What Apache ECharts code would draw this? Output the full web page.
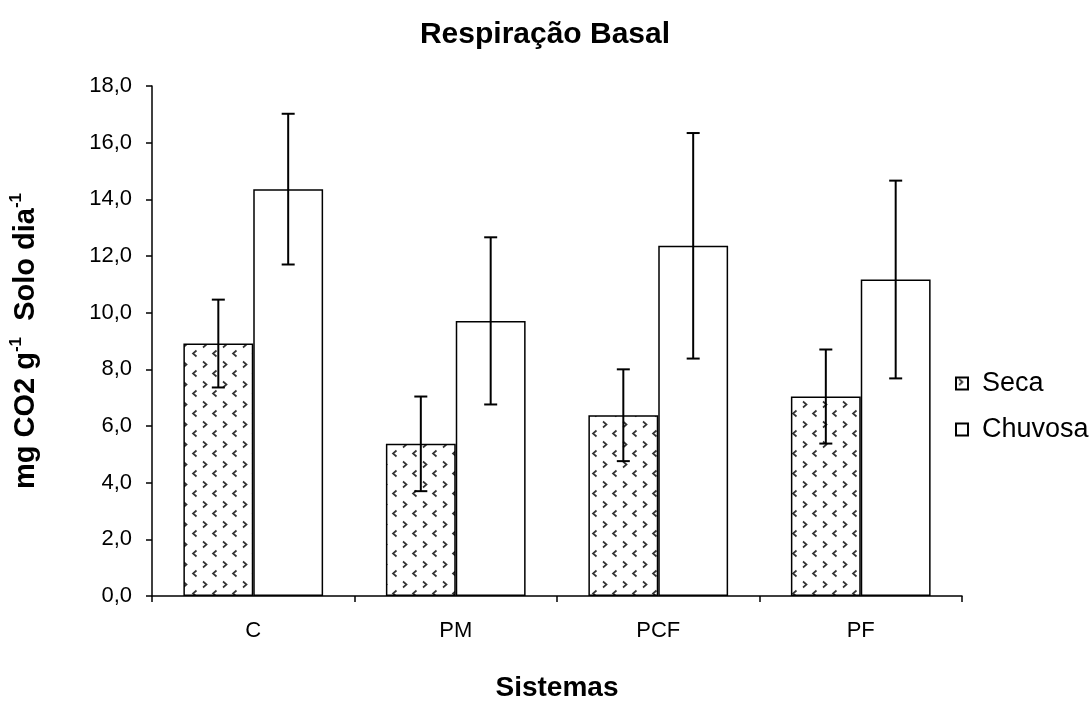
<!DOCTYPE html>
<html>
<head>
<meta charset="utf-8">
<script src="https://cdn.jsdelivr.net/npm/echarts@6/dist/echarts.min.js"></script>
<style>html,body{margin:0;padding:0;background:#fff}#c{width:1090px;height:707px}</style>
</head>
<body>
<div id="c"></div>
<script>
const categories = ['C', 'PM', 'PCF', 'PF'];
const seca = [8.91, 5.37, 6.38, 7.04];
const secaErr = [1.55, 1.67, 1.62, 1.66];
const chuvosa = [14.36, 9.71, 12.36, 11.17];
const chuvosaErr = [2.66, 2.95, 3.98, 3.49];
const yTicks = { min: 0, max: 18, interval: 2 };

const FONT = '"Liberation Sans", Arial, sans-serif';
const CAT_GAP = 0.31;

function makePattern() {
  const c = document.createElement('canvas');
  c.width = 20; c.height = 20;
  const g = c.getContext('2d');
  g.fillStyle = '#fff'; g.fillRect(0, 0, 20, 20);
  g.strokeStyle = '#333'; g.lineWidth = 1.7;
  g.beginPath(); g.moveTo(3, 1.5); g.lineTo(6.5, 4.5); g.lineTo(3, 7.5); g.stroke();
  g.beginPath(); g.moveTo(16.5, 10.5); g.lineTo(13, 13.5); g.lineTo(16.5, 16.5); g.stroke();
  return c;
}
const pattern = { image: makePattern(), repeat: 'repeat' };

function errSeries(vals, errs, side) {
  return {
    type: 'custom',
    silent: true,
    z: 10,
    data: vals.map((v, i) => [i, v - errs[i], v + errs[i]]),
    renderItem: function (params, api) {
      const i = api.value(0);
      const lo = api.coord([i, api.value(1)]);
      const hi = api.coord([i, api.value(2)]);
      const band = api.size([1, 0])[0];
      const bw = band * (1 - CAT_GAP) / 2;
      const x = lo[0] + side * bw / 2;
      const cap = 6.5;
      const st = { stroke: '#000', lineWidth: 2 };
      return {
        type: 'group',
        children: [
          { type: 'line', shape: { x1: x, y1: lo[1], x2: x, y2: hi[1] }, style: st },
          { type: 'line', shape: { x1: x - cap, y1: lo[1], x2: x + cap, y2: lo[1] }, style: st },
          { type: 'line', shape: { x1: x - cap, y1: hi[1], x2: x + cap, y2: hi[1] }, style: st }
        ]
      };
    }
  };
}

const chart = echarts.init(document.getElementById('c'), null, { renderer: 'canvas' });
chart.setOption({
  animation: false,
  backgroundColor: '#fff',
  textStyle: { fontFamily: FONT, color: '#000' },
  title: {
    text: 'Respiração Basal',
    left: 'center',
    top: 15,
    textStyle: { fontFamily: FONT, fontSize: 30, fontWeight: 'bold', color: '#000' }
  },
  legend: {
    orient: 'vertical',
    left: 955,
    top: 370,
    itemWidth: 12,
    itemHeight: 12,
    itemGap: 19,
    icon: 'rect',
    padding: 0,
    textStyle: { fontFamily: FONT, fontSize: 27, color: '#000', lineHeight: 26, padding: [0, 0, 0, 9] },
    data: ['Seca', 'Chuvosa']
  },
  grid: { left: 152, right: 128, top: 86, bottom: 103, containLabel: false },
  xAxis: {
    type: 'category',
    data: categories,
    name: 'Sistemas',
    nameLocation: 'middle',
    nameGap: 78,
    nameTextStyle: { fontFamily: FONT, fontSize: 28, fontWeight: 'bold', color: '#000' },
    axisLine: { lineStyle: { color: '#000', width: 1.5 } },
    axisTick: { show: true, length: 6, lineStyle: { color: '#000', width: 1.5 } },
    axisLabel: { fontFamily: FONT, fontSize: 22, color: '#000', margin: 24 },
    splitLine: { show: false }
  },
  yAxis: {
    type: 'value',
    min: yTicks.min,
    max: yTicks.max,
    interval: yTicks.interval,
    name: '{a|mg CO2 g}{s|-1}{a|  Solo dia}{s|-1}',
    nameLocation: 'middle',
    nameGap: 112,
    nameTextStyle: {
      rich: {
        a: { fontFamily: FONT, fontSize: 29, fontWeight: 'bold', color: '#000', lineHeight: 32, verticalAlign: 'bottom' },
        s: { fontFamily: FONT, fontSize: 17, fontWeight: 'bold', color: '#000', lineHeight: 32, verticalAlign: 'top', padding: [0, 0, 10, 0] }
      }
    },
    axisLine: { show: true, lineStyle: { color: '#000', width: 1.5 } },
    axisTick: { show: true, length: 6, lineStyle: { color: '#000', width: 1.5 } },
    axisLabel: {
      fontFamily: FONT, fontSize: 22, color: '#000', margin: 20,
      formatter: v => v.toFixed(1).replace('.', ',')
    },
    splitLine: { show: false }
  },
  series: [
    {
      name: 'Seca', type: 'bar', data: seca,
      barGap: '0%', barCategoryGap: (CAT_GAP * 100) + '%',
      itemStyle: { color: pattern, borderColor: '#000', borderWidth: 1.5 }
    },
    {
      name: 'Chuvosa', type: 'bar', data: chuvosa,
      barGap: '0%', barCategoryGap: (CAT_GAP * 100) + '%',
      itemStyle: { color: '#fff', borderColor: '#000', borderWidth: 1.5 }
    },
    errSeries(seca, secaErr, -1),
    errSeries(chuvosa, chuvosaErr, 1)
  ]
});
</script>
</body>
</html>
